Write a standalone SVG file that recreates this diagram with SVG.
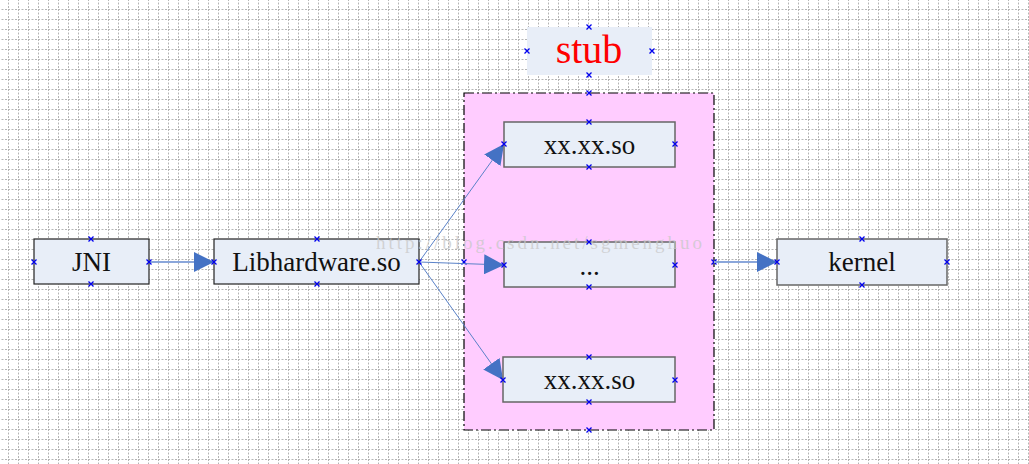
<svg xmlns="http://www.w3.org/2000/svg" width="1029" height="464" viewBox="0 0 1029 464">
<style>
.box{fill:#E8EEF8;stroke:#222;stroke-width:1.2}
.inner{fill:#E8EEF8;stroke:#666;stroke-width:1.5}
.lbl{font-family:"Liberation Serif",serif;font-size:27px;fill:#111;text-anchor:middle}
.conn{stroke:#5A82C8;stroke-width:1;fill:none}
.thick{stroke:#8AA6DA;stroke-width:2;fill:none}
.cx{stroke:#0000EE;stroke-width:1.3;fill:none}
</style>
<defs>
<pattern id="grid" x="8" y="9" width="10" height="10" patternUnits="userSpaceOnUse">
<path d="M0 0.5H10M0.5 0V10" stroke="#B4B4B4" stroke-width="1" stroke-dasharray="2 1.5" fill="none"/>
</pattern>
<marker id="arr" viewBox="0 0 20 20" refX="20" refY="10" markerWidth="20" markerHeight="20" markerUnits="userSpaceOnUse" orient="auto">
<path d="M0 0L20 10L0 20Z" fill="#4472C4"/>
</marker>
<path id="x" d="M-2.5 -2.5L2.5 2.5M-2.5 2.5L2.5 -2.5" class="cx"/>
</defs>
<rect width="1029" height="464" fill="#fff"/>
<rect width="1029" height="464" fill="url(#grid)"/>

<g id="stub-container">
<rect x="464" y="93" width="250" height="337" fill="#FFCCFF" stroke="#000" stroke-width="1.2" stroke-dasharray="10 3 2 3"/>
<use href="#x" x="589" y="93"/><use href="#x" x="589" y="430"/><use href="#x" x="464" y="262"/><use href="#x" x="714" y="262"/>
</g>

<g id="stub-label">
<rect x="527" y="27" width="125" height="48" fill="#E8EEF8"/>
<text x="589" y="63" font-family="'Liberation Serif',serif" font-size="40" fill="#FF0000" text-anchor="middle">stub</text>
<use href="#x" x="589" y="27"/><use href="#x" x="589" y="75"/><use href="#x" x="527" y="51"/><use href="#x" x="652" y="51"/>
</g>

<g id="connectors">
<line class="thick" x1="149" y1="262" x2="214" y2="262" marker-end="url(#arr)"/>
<line class="conn" x1="419" y1="262" x2="504" y2="144" marker-end="url(#arr)"/>
<line class="conn" x1="419" y1="262" x2="504" y2="265" marker-end="url(#arr)"/>
<line class="conn" x1="419" y1="262" x2="503" y2="380" marker-end="url(#arr)"/>
<line class="thick" x1="714" y1="262" x2="777" y2="262" marker-end="url(#arr)"/>
</g>

<g id="jni">
<rect class="box" x="34" y="239" width="115" height="45"/>
<text class="lbl" x="91.5" y="271">JNI</text>
<use href="#x" x="91" y="239"/><use href="#x" x="91" y="284"/><use href="#x" x="34" y="262"/><use href="#x" x="149" y="262"/>
</g>

<g id="libhardware">
<rect class="box" x="214" y="239" width="205" height="45"/>
<text class="lbl" x="316.5" y="271">Libhardware.so</text>
<use href="#x" x="317" y="239"/><use href="#x" x="317" y="284"/><use href="#x" x="214" y="262"/><use href="#x" x="419" y="262"/>
</g>

<g id="so-top">
<rect class="inner" x="504" y="122" width="171" height="45"/>
<text class="lbl" x="589.5" y="154">xx.xx.so</text>
<use href="#x" x="589" y="122"/><use href="#x" x="589" y="167"/><use href="#x" x="504" y="144"/><use href="#x" x="675" y="144"/>
</g>

<g id="so-mid">
<rect class="inner" x="504" y="242" width="171" height="45"/>
<text class="lbl" x="589.5" y="275">...</text>
<use href="#x" x="589" y="242"/><use href="#x" x="589" y="287"/><use href="#x" x="504" y="265"/><use href="#x" x="675" y="265"/>
</g>

<g id="so-bottom">
<rect class="inner" x="503" y="357" width="172" height="45"/>
<text class="lbl" x="589.5" y="389">xx.xx.so</text>
<use href="#x" x="589" y="357"/><use href="#x" x="589" y="402"/><use href="#x" x="503" y="380"/><use href="#x" x="675" y="380"/>
</g>

<g id="kernel">
<rect class="inner" x="777" y="239" width="170" height="46"/>
<text class="lbl" x="862" y="271">kernel</text>
<use href="#x" x="862" y="239"/><use href="#x" x="862" y="285"/><use href="#x" x="777" y="262"/><use href="#x" x="947" y="262"/>
</g>

<text x="376" y="249" font-family="'Liberation Serif',serif" font-size="19" fill="#C8C8C8" fill-opacity="0.75" textLength="326" lengthAdjust="spacing">http://blog.csdn.net/sgmenghuo</text>
</svg>
